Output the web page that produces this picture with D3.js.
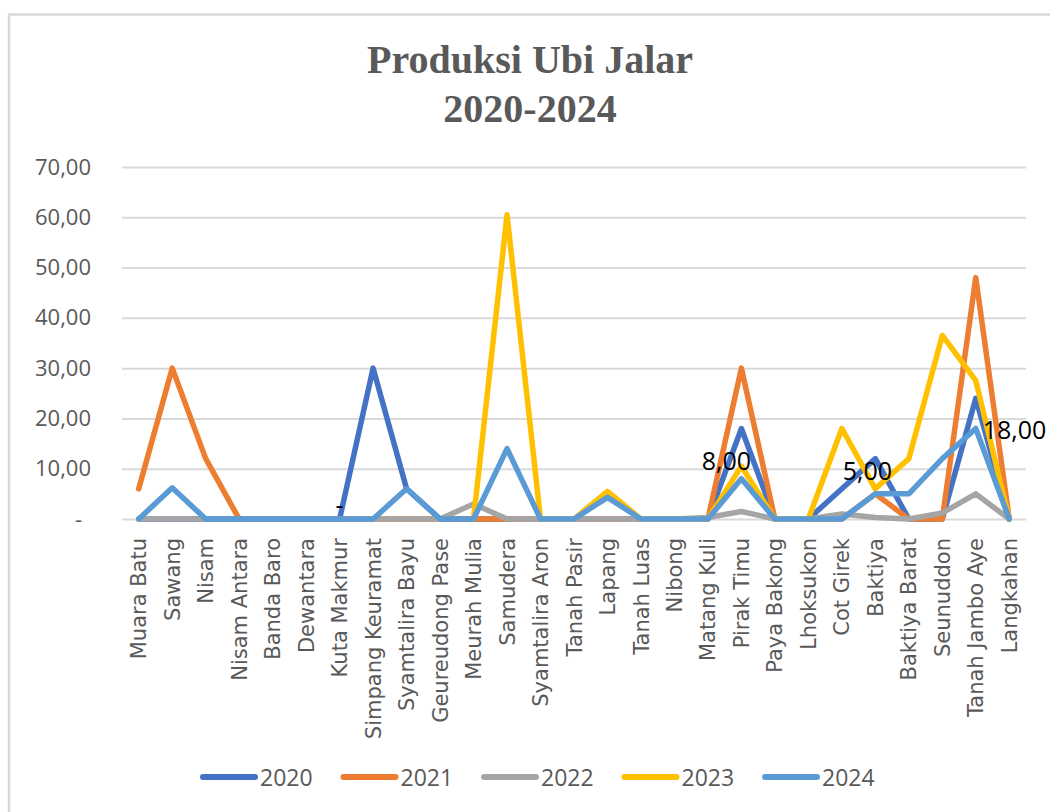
<!DOCTYPE html>
<html>
<head>
<meta charset="utf-8">
<script src="https://cdn.jsdelivr.net/npm/d3@7"></script>
<style>
  body { margin: 0; background: #fff; }
</style>
</head>
<body>
<div id="chart"></div>
<script>
// kecamatan (categories)
var kecamatan = ["Muara Batu", "Sawang", "Nisam", "Nisam Antara", "Banda Baro", "Dewantara",
    "Kuta Makmur", "Simpang Keuramat", "Syamtalira Bayu", "Geureudong Pase", "Meurah Mulia",
    "Samudera", "Syamtalira Aron", "Tanah Pasir", "Lapang", "Tanah Luas", "Nibong", "Matang Kuli",
    "Pirak Timu", "Paya Bakong", "Lhoksukon", "Cot Girek", "Baktiya", "Baktiya Barat",
    "Seunuddon", "Tanah Jambo Aye", "Langkahan"];

var years = ["2020", "2021", "2022", "2023", "2024"];

// series values (null = empty cell, no line drawn)
var prod2020 = [0, 0, 0, 0, 0, 0, 0, 30, 6, 0, 0, 0, 0, 0, 0, 0, 0, 0, 18, 0, 0, 6, 12, 0, 0, 24, 0];
var prod2021 = [6, 30, 12, 0, 0, 0, 0, 0, 0, 0, 0, 0, 0, 0, 0, 0, 0, 0, 30, 0, 0, 0, 5, 0, 0, 48, 0];
var prod2022 = [0, 0, 0, 0, 0, 0, 0, 0, 0, 0, 3, 0, 0, 0, 0, 0, 0, 0.3, 1.5, 0, 0, 1, 0.3, 0, 1.2, 5, 0];
var prod2023 = [null, null, null, null, null, null, null, null, null, null, 0, 60.5, 0, 0, 5.5, 0, 0, 0, 10.5, 0, 0, 18, 6, 12, 36.5, 27.5, 0];
var prod2024 = [0, 6.2, 0, 0, 0, 0, 0, 0, 6, 0, 0, 14, 0, 0, 4.3, 0, 0, 0, 8, 0, 0, 0, 5, 5, 12, 18, 0];

// y axis ticks
var yTicks = [0, 10, 20, 30, 40, 50, 60, 70];

// data labels shown on the chart (year, kecamatan)
var labelPoints = [
    ["2024", "Kuta Makmur"],
    ["2024", "Pirak Timu"],
    ["2024", "Baktiya"],
    ["2024", "Tanah Jambo Aye"]
];

(function() {

    var W = 1050, H = 812;
    var margin = { top: 167, right: 24, bottom: 293, left: 122 },
        width = W - margin.left - margin.right,
        height = H - margin.top - margin.bottom;

    var colors = ["#4472C4", "#ED7D31", "#A5A5A5", "#FFC000", "#5B9BD5"];
    var values = [prod2020, prod2021, prod2022, prod2023, prod2024];

    var series = years.map(function(yr, i) {
        return { key: yr, color: colors[i], values: values[i] };
    });

    var locale = d3.formatLocale({ decimal: ",", thousands: ".", grouping: [3], currency: ["", ""] });
    var fmt = locale.format(",.2f");
    var fmtVal = function(v) { return v === 0 ? "-" : fmt(v); };

    var root = d3.select("#chart")
        .append("svg")
        .attr("width", W)
        .attr("height", H)
        .style("display", "block");

    root.append("rect")
        .attr("width", W).attr("height", H)
        .attr("fill", "#fff");

    // chart area border (only top and left are inside the picture)
    root.append("path")
        .attr("d", "M9," + H + "V14.5H" + W)
        .attr("fill", "none")
        .attr("stroke", "#D9D9D9")
        .attr("stroke-width", 2.5);

    // title
    var title = root.append("text")
        .attr("x", 530)
        .attr("text-anchor", "middle")
        .style("font-family", "'Liberation Serif', serif")
        .style("font-weight", "bold")
        .style("font-size", "40px")
        .attr("fill", "#595959");
    title.append("tspan").attr("x", 530).attr("y", 73).text("Produksi Ubi Jalar");
    title.append("tspan").attr("x", 530).attr("y", 122).text("2020-2024");

    var svg = root.append("g")
        .attr("transform", "translate(" + margin.left + "," + margin.top + ")");

    var x = d3.scaleBand()
        .domain(kecamatan)
        .range([0, width]);

    var y = d3.scaleLinear()
        .domain([0, 70])
        .range([height, 0]);

    var cx = function(name) { return x(name) + x.bandwidth() / 2; };

    // Y axis + gridlines
    var yAxis = svg.append("g")
        .call(d3.axisLeft(y).tickValues(yTicks).tickFormat(fmtVal)
            .tickSize(-width).tickPadding(31));
    yAxis.select(".domain").remove();
    yAxis.selectAll("line")
        .attr("stroke", "#D9D9D9")
        .attr("stroke-width", 2);
    yAxis.selectAll("text")
        .style("font-family", "'Open Sans', sans-serif")
        .style("font-size", "22px")
        .attr("fill", "#595959")
        .filter(function(d) { return d === 0; })
        .attr("x", -40);

    // X axis, rotated labels
    var xAxis = svg.append("g")
        .attr("transform", "translate(0," + height + ")")
        .call(d3.axisBottom(x).tickSize(0));
    xAxis.select(".domain").remove();
    xAxis.selectAll("text")
        .attr("transform", "rotate(-90)")
        .attr("x", -19)
        .attr("y", 0)
        .attr("dy", "0.36em")
        .style("text-anchor", "end")
        .style("font-family", "'DejaVu Sans', sans-serif")
        .style("font-size", "21px")
        .attr("fill", "#595959");

    // lines
    var line = d3.line()
        .defined(function(d) { return d !== null; })
        .x(function(d, i) { return cx(kecamatan[i]); })
        .y(function(d) { return y(d); });

    svg.append("g")
        .selectAll("path")
        .data(series)
        .enter().append("path")
        .attr("d", function(d) { return line(d.values); })
        .attr("fill", "none")
        .attr("stroke", function(d) { return d.color; })
        .attr("stroke-width", 5.5)
        .attr("stroke-linejoin", "round")
        .attr("stroke-linecap", "round");

    // data labels, nudged like in the original
    var nudge = { "Kuta Makmur": [0, -5, "middle"], "Pirak Timu": [-15, -9, "middle"],
        "Baktiya": [-8, -14, "middle"], "Tanah Jambo Aye": [7, 11, "start"] };

    svg.append("g")
        .selectAll("text")
        .data(labelPoints)
        .enter().append("text")
        .attr("x", function(d) { return cx(d[1]) + nudge[d[1]][0]; })
        .attr("y", function(d) {
            var v = values[years.indexOf(d[0])][kecamatan.indexOf(d[1])];
            return y(v) + nudge[d[1]][1];
        })
        .attr("text-anchor", function(d) { return nudge[d[1]][2]; })
        .style("font-family", "'Open Sans', sans-serif")
        .style("font-size", "25px")
        .attr("fill", "#000")
        .text(function(d) { return fmtVal(values[years.indexOf(d[0])][kecamatan.indexOf(d[1])]); });

    // legend
    var legend = root.append("g")
        .attr("transform", "translate(200,777)");

    var item = legend.selectAll("g")
        .data(series)
        .enter().append("g")
        .attr("transform", function(d, i) { return "translate(" + (i * 140.5) + ",0)"; });

    item.append("line")
        .attr("x1", 3).attr("x2", 55)
        .attr("stroke", function(d) { return d.color; })
        .attr("stroke-width", 6)
        .attr("stroke-linecap", "round");

    item.append("text")
        .attr("x", 60)
        .attr("y", 8.5)
        .style("font-family", "'Open Sans', sans-serif")
        .style("font-size", "23px")
        .attr("fill", "#595959")
        .text(function(d) { return d.key; });

})();
</script>
</body>
</html>
